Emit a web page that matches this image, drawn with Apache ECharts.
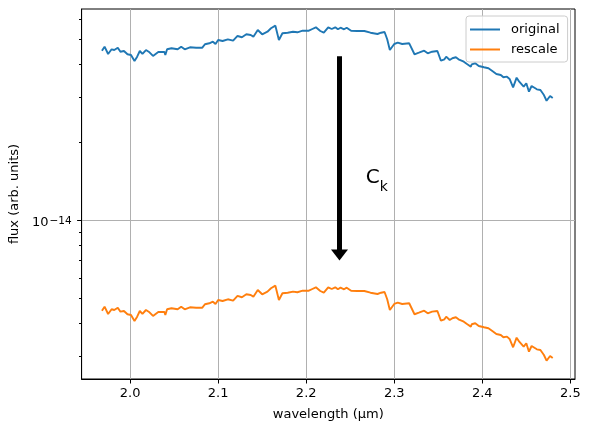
<!DOCTYPE html>
<html>
<head>
<meta charset="utf-8">
<script src="https://cdn.jsdelivr.net/npm/echarts@6.0.0/dist/echarts.min.js"></script>
<style>
  html, body { margin: 0; padding: 0; background: #fff; }
  #chart { width: 591px; height: 432px; }
</style>
</head>
<body>
<div id="chart"></div>
<script>
// wavelength in µm
const wavelength = [
  1.968, 1.971, 1.975, 1.979, 1.982, 1.986, 1.989, 1.993, 1.997, 2.001,
  2.005, 2.008, 2.011, 2.014, 2.018, 2.022, 2.026, 2.032, 2.039, 2.040,
  2.042, 2.047, 2.054, 2.058, 2.062, 2.068, 2.075, 2.082, 2.085, 2.090,
  2.094, 2.097, 2.100, 2.105, 2.111, 2.117, 2.122, 2.127, 2.132, 2.137,
  2.140, 2.145, 2.150, 2.156, 2.160, 2.165, 2.169, 2.173, 2.179, 2.185,
  2.190, 2.196, 2.203, 2.207, 2.211, 2.216, 2.220, 2.225, 2.229, 2.233,
  2.236, 2.239, 2.243, 2.246, 2.251, 2.258, 2.266, 2.273, 2.281, 2.285,
  2.289, 2.292, 2.295, 2.300, 2.304, 2.309, 2.317, 2.319, 2.323, 2.328,
  2.334, 2.338, 2.343, 2.349, 2.353, 2.357, 2.359, 2.363, 2.366, 2.370,
  2.373, 2.379, 2.383, 2.387, 2.388, 2.392, 2.396, 2.402, 2.407, 2.411,
  2.416, 2.421, 2.424, 2.428, 2.431, 2.435, 2.439, 2.442, 2.447, 2.450,
  2.453, 2.456, 2.462, 2.466, 2.470, 2.473, 2.477, 2.480
]

// original flux, in units of 1e-14
const originalFlux = [
  4.524, 4.690, 4.395, 4.582, 4.553, 4.648, 4.485, 4.513, 4.383, 4.355,
  4.130, 4.291, 4.513, 4.395, 4.553, 4.461, 4.318, 4.473, 4.473, 4.355,
  4.582, 4.623, 4.582, 4.690, 4.582, 4.665, 4.648, 4.648, 4.791, 4.833,
  4.902, 4.803, 4.977, 4.933, 5.008, 4.946, 5.158, 5.099, 5.236, 5.204,
  5.126, 5.440, 5.236, 5.358, 5.522, 5.652, 4.977, 5.282, 5.310, 5.358,
  5.330, 5.406, 5.406, 5.488, 5.572, 5.391, 5.310, 5.572, 5.488, 5.572,
  5.474, 5.552, 5.474, 5.552, 5.406, 5.391, 5.391, 5.310, 5.249, 5.310,
  5.344, 5.008, 4.553, 4.803, 4.859, 4.803, 4.833, 4.791, 4.383, 4.445,
  4.524, 4.421, 4.485, 4.513, 4.140, 4.192, 4.291, 4.166, 4.230, 4.268,
  4.192, 4.104, 4.010, 3.926, 4.010, 4.046, 3.950, 3.905, 3.870, 3.788,
  3.679, 3.646, 3.572, 3.592, 3.519, 3.268, 3.560, 3.436, 3.286, 3.388,
  3.142, 3.306, 3.210, 3.190, 3.051, 2.900, 3.024, 2.972
]

// rescaled flux, in units of 1e-15
const rescaleFlux = [
  4.483, 4.648, 4.355, 4.541, 4.512, 4.606, 4.445, 4.472, 4.344, 4.316,
  4.093, 4.252, 4.472, 4.355, 4.512, 4.421, 4.279, 4.433, 4.433, 4.316,
  4.541, 4.581, 4.541, 4.648, 4.541, 4.623, 4.606, 4.606, 4.748, 4.790,
  4.858, 4.760, 4.932, 4.889, 4.963, 4.901, 5.112, 5.053, 5.189, 5.157,
  5.080, 5.391, 5.189, 5.310, 5.472, 5.601, 4.932, 5.234, 5.262, 5.310,
  5.282, 5.357, 5.357, 5.439, 5.522, 5.342, 5.262, 5.522, 5.439, 5.522,
  5.425, 5.502, 5.425, 5.502, 5.357, 5.342, 5.342, 5.262, 5.202, 5.262,
  5.296, 4.963, 4.512, 4.760, 4.815, 4.760, 4.790, 4.748, 4.344, 4.405,
  4.483, 4.381, 4.445, 4.472, 4.103, 4.154, 4.252, 4.128, 4.192, 4.230,
  4.154, 4.067, 3.974, 3.891, 3.974, 4.010, 3.914, 3.870, 3.835, 3.754,
  3.646, 3.613, 3.540, 3.560, 3.487, 3.239, 3.528, 3.405, 3.256, 3.358,
  3.114, 3.276, 3.181, 3.161, 3.024, 2.874, 2.997, 2.945
]

const xTicks = [2.0, 2.1, 2.2, 2.3, 2.4, 2.5]
const yMajorTicks = [1e-14]
const yMinorTicks = [3e-15, 4e-15, 5e-15, 6e-15, 7e-15, 8e-15, 9e-15, 2e-14, 3e-14, 4e-14, 5e-14, 6e-14]

// axis ranges
const xMin = 1.9449, xMax = 2.5053
const yMin = 2.443e-15, yMax = 6.556e-14

// arrow + C_k annotation (data coords)
const arrowX = 2.2378, arrowFrom = 4.31e-14, arrowTo = 7.36e-15
const ckX = 2.2801, ckY = 1.42e-14

const font = 'DejaVu Sans'
const blue = '#1f77b4', orange = '#ff7f0e'

// log axis is drawn as a value axis over log10(flux)
const lg = v => Math.log10(v)
const pairs = (ys, unit) => wavelength.map((w, i) => [w, lg(ys[i] * unit)])
const supMinus = n => String(Math.round(n)).replace('-', '\u2212')

let chart = echarts.init(document.getElementById('chart'), null, {renderer: 'canvas'})

chart.setOption({
    animation: false,
    textStyle: {fontFamily: font},
    grid: {left: 80, right: 16, top: 9, bottom: 53, show: true, borderColor: '#000', borderWidth: 1},
    legend: {
        orient: 'vertical', left: 466, top: 16,
        padding: [7, 8, 6, 4], itemGap: 7,
        itemWidth: 30, itemHeight: 2, icon: 'rect',
        textStyle: {fontSize: 13, color: '#000', fontFamily: font, padding: [0, 0, 0, 6]},
        backgroundColor: 'rgba(255,255,255,0.8)', borderColor: '#cccccc', borderWidth: 1, borderRadius: 3,
        data: ['original', 'rescale']
    },
    xAxis: {
        type: 'value', min: xMin, max: xMax,
        name: 'wavelength (µm)', nameLocation: 'middle', nameGap: 29,
        nameTextStyle: {fontSize: 13, color: '#000', fontFamily: font},
        axisLine: {lineStyle: {color: '#000', width: 1}},
        axisTick: {customValues: xTicks, length: 4.5, lineStyle: {color: '#000'}},
        axisLabel: {customValues: xTicks, formatter: v => v.toFixed(1), margin: 8, fontSize: 13, color: '#000', fontFamily: font},
        splitLine: {show: true, lineStyle: {color: '#b0b0b0', width: 1}}
    },
    yAxis: [{
        type: 'value', min: lg(yMin), max: lg(yMax),
        name: 'flux (arb. units)', nameLocation: 'middle', nameGap: 56,
        nameTextStyle: {fontSize: 13, color: '#000', fontFamily: font},
        axisLine: {show: true, lineStyle: {color: '#000', width: 1}},
        axisTick: {show: true, customValues: yMajorTicks.map(lg), length: 4.5, lineStyle: {color: '#000'}},
        axisLabel: {
            customValues: yMajorTicks.map(lg), margin: 10, color: '#000',
            formatter: v => '{b|10}{sup|' + supMinus(v) + '}',
            rich: {
                b: {fontSize: 13, lineHeight: 15, padding: [4, 0, 0, 0], fontFamily: font, color: '#000'},
                sup: {fontSize: 10.5, lineHeight: 12, padding: [3, 0, 0, 1], verticalAlign: 'top', fontFamily: font, color: '#000'}
            }
        },
        splitLine: {show: true, lineStyle: {color: '#b0b0b0', width: 1}}
    }, {
        // minor ticks only
        type: 'value', min: lg(yMin), max: lg(yMax), position: 'left',
        axisLine: {show: false},
        axisTick: {show: true, customValues: yMinorTicks.map(lg), length: 2.6, lineStyle: {color: '#000'}},
        axisLabel: {show: false},
        splitLine: {show: false}
    }],
    series: [{
        name: 'original', type: 'line', data: pairs(originalFlux, 1e-14),
        showSymbol: false, color: blue, lineStyle: {width: 1.9, color: blue},
        emphasis: {disabled: true}, silent: true,
        // arrow shaft
        markLine: {
            silent: true, animation: false,
            symbol: ['none', 'none'],
            lineStyle: {color: '#000', width: 5, type: 'solid'},
            label: {show: false}, emphasis: {disabled: true},
            data: [[{coord: [arrowX, lg(arrowFrom)]}, {coord: [arrowX, lg(arrowTo)]}]]
        },
        markPoint: {
            silent: true, animation: false,
            symbol: 'circle', symbolSize: 1, itemStyle: {color: 'rgba(0,0,0,0)'},
            label: {
                show: true, position: 'inside', formatter: '{c|C}{k|k}', lineHeight: 26,
                rich: {
                    c: {fontSize: 20, fontFamily: font, color: '#000', verticalAlign: 'top'},
                    k: {fontSize: 14, fontFamily: font, color: '#000', verticalAlign: 'bottom'}
                }
            },
            data: [{coord: [ckX, lg(ckY)]}]
        }
    }, {
        name: 'rescale', type: 'line', data: pairs(rescaleFlux, 1e-15),
        showSymbol: false, color: orange, lineStyle: {width: 1.9, color: orange},
        emphasis: {disabled: true}, silent: true,
        // arrow head
        markPoint: {
            silent: true, animation: false,
            symbol: 'triangle', symbolSize: [17, 11], symbolRotate: 180,
            itemStyle: {color: '#000'}, label: {show: false},
            data: [{coord: [arrowX, lg(arrowTo)]}]
        }
    }]
})
</script>
</body>
</html>
